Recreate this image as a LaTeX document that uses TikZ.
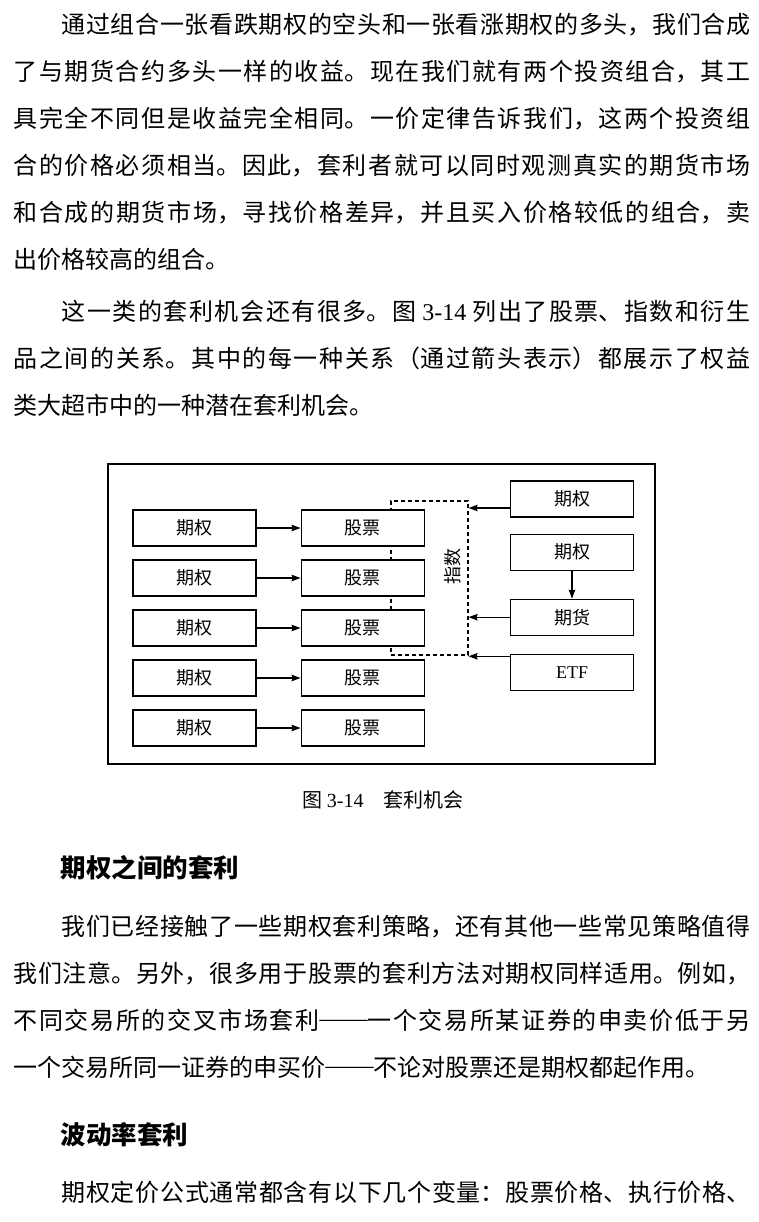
\documentclass[tikz,border=0pt]{standalone}
\usepackage{fontspec}
\setmainfont{Liberation Serif}
\newfontfamily\cjk{Noto Sans CJK SC}
\XeTeXlinebreaklocale "zh"
\XeTeXlinebreakskip=0pt plus 6pt
\usetikzlibrary{arrows.meta,positioning}

\newcommand\ddash{\mbox{\raisebox{0.12em}{\rmfamily ——}}}

\tikzset{
  para/.style={anchor=base west, inner sep=0pt, text width=737pt, align=justify,
    font=\cjk\fontsize{24}{47}\selectfont},
  head/.style={anchor=base west, inner sep=0pt, font=\cjk\bfseries\fontsize{25.5}{25.5}\selectfont},
  box/.style={draw, fill=white, line width=1.1pt, minimum width=123pt, minimum height=36pt,
    inner sep=0pt, font=\cjk\fontsize{18}{18}\selectfont},
  idxbox/.style={draw, line width=1.1pt, dash pattern=on 4pt off 3pt,
    minimum width=77pt, minimum height=154pt, inner sep=0pt}
}

\begin{document}
\begin{tikzpicture}[x=1pt,y=-1pt,->,>={Stealth[length=9pt,width=6.5pt,inset=1pt]},line width=1.1pt]
  \useasboundingbox (0,0) rectangle (758,1222);

  % text above the figure
  \node[para] (p1) at (13,33.4) {\hspace*{2em}通过组合一张看跌期权的空头和一张看涨期权的多头，我们合成\linebreak
    了与期货合约多头一样的收益。现在我们就有两个投资组合，其工\linebreak
    具完全不同但是收益完全相同。一价定律告诉我们，这两个投资组\linebreak
    合的价格必须相当。因此，套利者就可以同时观测真实的期货市场\linebreak
    和合成的期货市场，寻找价格差异，并且买入价格较低的组合，卖\linebreak
    出价格较高的组合。};
  \node[para] (p2) at (13,320) {\hspace*{2em}这一类的套利机会还有很多。图 {\rmfamily 3-14} 列出了股票、指数和衍生\linebreak
    品之间的关系。其中的每一种关系（通过箭头表示）都展示了权益\linebreak
    类大超市中的一种潜在套利机会。};

  % figure 3-14
  \draw[-] (108,464) rectangle (655,764);
  \node[idxbox] (idx) at (429.5,578) {};
  \node[rotate=90, font=\cjk\fontsize{18}{18}\selectfont] (idxlabel) at (453,566) {指数};

  \foreach \i/\y in {1/528,2/578,3/628,4/678,5/728}{
    \node[box] (opt\i) at (194.5,\y) {期权};
    \node[box, right=44pt of opt\i] (stk\i) {股票};
    \draw (opt\i) -- (stk\i);
  }

  \node[box] (ropt) at (572,499) {期权};
  \node[box, below=16pt of ropt] (fopt) {期权};
  \node[box, below=28pt of fopt] (fut) {期货};
  \node[box, below=18pt of fut] (etf) {\rmfamily ETF};

  \coordinate (a1) at ([yshift=-9pt]ropt.west);
  \coordinate (a3) at ([yshift=16pt]etf.west);
  \draw (a1) -- (a1 -| idx.east);
  \draw (fut.west) -- (fut.west -| idx.east);
  \draw (a3) -- (a3 -| idx.east);
  \draw (fopt) -- (fut);

  \node[anchor=base, inner sep=0pt, font=\cjk\fontsize{20}{20}\selectfont] (cap) at (383,807)
    {图 {\rmfamily 3-14}\hspace{1em}套利机会};

  % text below the figure
  \node[head] (sec1) at (60,877) {期权之间的套利};
  \node[para] (p3) at (13,935) {\hspace*{2em}我们已经接触了一些期权套利策略，还有其他一些常见策略值得\linebreak
    我们注意。另外，很多用于股票的套利方法对期权同样适用。例如，\linebreak
    不同交易所的交叉市场套利\ddash 一个交易所某证券的申卖价低于另\linebreak
    一个交易所同一证券的申买价\ddash 不论对股票还是期权都起作用。};
  \node[head] (sec2) at (60,1144) {波动率套利};
  \node[para] (p4) at (13,1201.5) {\hspace*{2em}期权定价公式通常都含有以下几个变量：股票价格、执行价格、\linebreak};
\end{tikzpicture}
\end{document}
